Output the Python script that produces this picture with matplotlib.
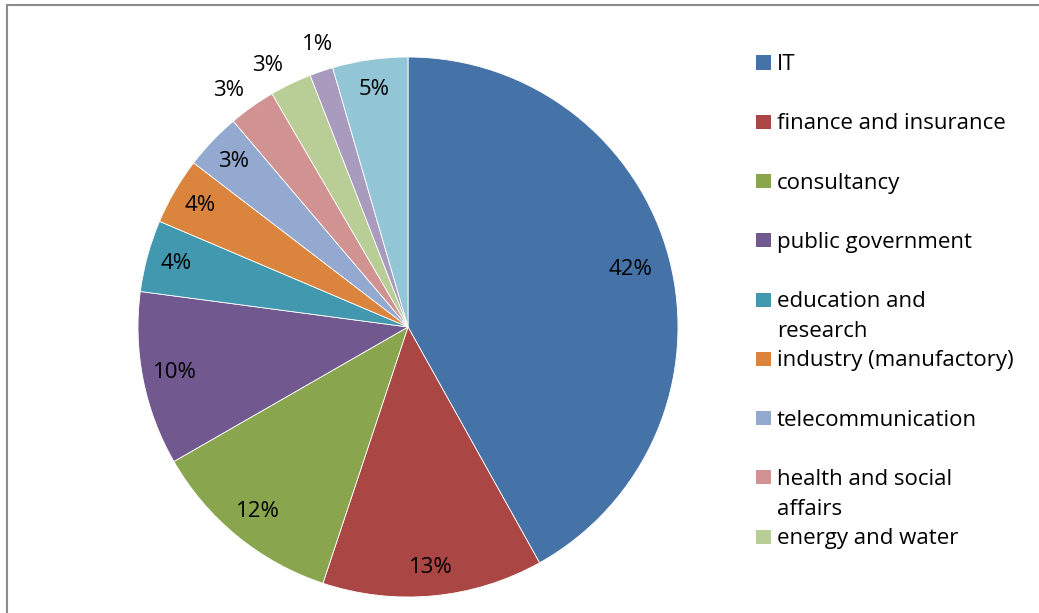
import numpy as np
import matplotlib
matplotlib.use("Agg")
import matplotlib.pyplot as plt
from matplotlib.patches import Rectangle

# ---- data ----
categories = ["IT", "finance and insurance", "consultancy", "public government",
              "education and\nresearch", "industry (manufactory)", "telecommunication",
              "health and social\naffairs", "energy and water", "transport", "other"]
shares = [41.9, 13.2, 11.6, 10.4, 4.3, 4.0, 3.4, 2.8, 2.5, 1.4, 4.5]
pct_labels = ["42%", "13%", "12%", "10%", "4%", "4%", "3%", "3%", "3%", "1%", "5%"]
colors = ["#4572A7", "#AA4643", "#89A54E", "#71588F", "#4198AF", "#DB843D",
          "#93A9CF", "#D19392", "#B9CD96", "#A99BBD", "#92C5D6"]
n_legend = 9  # legend is clipped after 9 entries in the reference

# ---- style ----
W, H = 1039, 613
FONT = "Open Sans"
label_r = [0.85, 0.895, 0.88, 0.88, 0.89, 0.89, 0.89, 1.10, 1.10, 1.10, 0.89]
label_dtheta = [0, 0, 0, 0, 0, 0, 0, 2.0, 2.5, -1.0, 0]

fig = plt.figure(figsize=(W / 100, H / 100), dpi=100)
fig.patch.set_facecolor("white")

# outer frame (clipped at right/bottom)
fig.add_artist(Rectangle((6.5 / W, -0.1), 1.2, 1 - 5.5 / H + 0.1,
                         transform=fig.transFigure, fill=False,
                         edgecolor="#8c8c8c", linewidth=1.5))

cx, cy, R = 408, 327, 270
ax = fig.add_axes([(cx - R) / W, (H - cy - R) / H, 2 * R / W, 2 * R / H])
wedges, _ = ax.pie(shares, colors=colors, startangle=90, counterclock=False,
                   radius=1.0, wedgeprops=dict(edgecolor="white", linewidth=0.6))
ax.set_xlim(-1, 1)
ax.set_ylim(-1, 1)
ax.set_aspect("equal")
ax.axis("off")

for w, lab, r, dt in zip(wedges, pct_labels, label_r, label_dtheta):
    mid = np.deg2rad((w.theta1 + w.theta2) / 2 + dt)
    ax.text(r * np.cos(mid), r * np.sin(mid), lab, ha="center", va="center",
            fontsize=16, family=FONT, color="black")

# legend drawn manually (Excel-style fixed slots)
y0, step, line_gap = 62.5, 59.25, 30
for i in range(n_legend):
    yc = y0 + i * step
    fig.add_artist(Rectangle((756 / W, (H - yc - 7) / H), 15 / W, 14 / H,
                             transform=fig.transFigure, facecolor=colors[i],
                             edgecolor="none"))
    for k, line in enumerate(categories[i].split("\n")):
        base = yc + 7.5 + k * line_gap
        fig.text(777 / W, (H - base) / H, line, ha="left", va="baseline",
                 fontsize=16, family=FONT, color="black")

fig.savefig("out.png", dpi=100)
